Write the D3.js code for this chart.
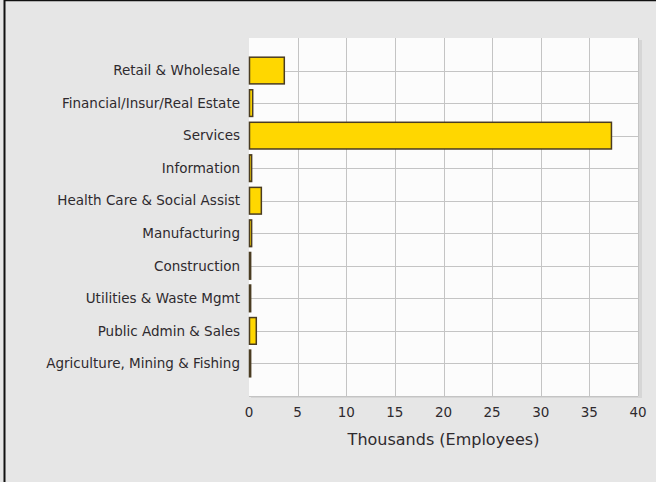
<!DOCTYPE html>
<html>
<head>
<meta charset="utf-8">
<script src="https://cdn.jsdelivr.net/npm/d3@7"></script>
<style>
  html, body { margin: 0; padding: 0; background: #e6e6e6; }
  svg { display: block; }
</style>
</head>
<body>
<div id="chart"></div>
<script>
// Employment by industry (thousands)
const CATEGORIES = [
  'Retail & Wholesale',
  'Financial/Insur/Real Estate',
  'Services',
  'Information',
  'Health Care & Social Assist',
  'Manufacturing',
  'Construction',
  'Utilities & Waste Mgmt',
  'Public Admin & Sales',
  'Agriculture, Mining & Fishing'
];
const VALUES = [3.63, 0.38, 37.27, 0.27, 1.27, 0.27, 0.17, 0.17, 0.75, 0.17];
const X_TICKS = [0, 5, 10, 15, 20, 25, 30, 35, 40];
const X_TITLE = 'Thousands (Employees)';

const W = 656, H = 482;
const MARGIN = { top: 38, right: 18, bottom: 86, left: 249 };
const innerW = W - MARGIN.left - MARGIN.right;
const innerH = H - MARGIN.top - MARGIN.bottom;
const FONT = '"DejaVu Sans", Verdana, sans-serif';

const svg = d3.select('#chart').append('svg')
  .attr('width', W)
  .attr('height', H);

svg.append('rect')
  .attr('width', W).attr('height', H)
  .attr('fill', '#e6e6e6');

// frame lines on left and top
svg.append('line')
  .attr('x1', 4.5).attr('x2', 4.5).attr('y1', 0).attr('y2', H)
  .attr('stroke', '#111').attr('stroke-width', 2);
svg.append('line')
  .attr('x1', 4).attr('x2', W).attr('y1', 0.5).attr('y2', 0.5)
  .attr('stroke', '#111').attr('stroke-width', 1.5);

const g = svg.append('g').attr('transform', `translate(${MARGIN.left},${MARGIN.top})`);

const x = d3.scaleLinear().domain([0, 40]).range([0, innerW]);
const y = d3.scalePoint().domain(CATEGORIES).range([0, innerH]).padding(1);
const barH = y.step() * 0.82;

// panel shadow + background
g.append('rect')
  .attr('x', 2).attr('y', 2)
  .attr('width', innerW + 2).attr('height', innerH)
  .attr('fill', '#d6d6d6');
g.append('rect')
  .attr('width', innerW).attr('height', innerH)
  .attr('fill', '#fcfcfc');

// grid
g.selectAll('.vgrid').data(X_TICKS.slice(1)).join('line')
  .attr('class', 'vgrid')
  .attr('x1', (d) => Math.round(x(d)) + 0.5).attr('x2', (d) => Math.round(x(d)) + 0.5)
  .attr('y1', 0).attr('y2', innerH)
  .attr('stroke', '#c4c4c4').attr('stroke-width', 1);

g.selectAll('.hgrid').data(CATEGORIES).join('line')
  .attr('class', 'hgrid')
  .attr('x1', 0).attr('x2', innerW)
  .attr('y1', (d) => Math.round(y(d)) + 0.5).attr('y2', (d) => Math.round(y(d)) + 0.5)
  .attr('stroke', '#c4c4c4').attr('stroke-width', 1);

// bottom axis line
g.append('line')
  .attr('x1', 0).attr('x2', innerW)
  .attr('y1', innerH + 0.5).attr('y2', innerH + 0.5)
  .attr('stroke', '#c4c4c4');

// bars
g.selectAll('.bar').data(VALUES).join('rect')
  .attr('class', 'bar')
  .attr('x', 0.5)
  .attr('y', (d, i) => y(CATEGORIES[i]) - barH / 2)
  .attr('width', (d) => Math.max(0, x(d) - 0.5))
  .attr('height', barH)
  .attr('fill', '#ffd700')
  .attr('stroke', '#4a3c22')
  .attr('stroke-width', 1.5);

// category labels
g.selectAll('.cat').data(CATEGORIES).join('text')
  .attr('class', 'cat')
  .attr('x', -9)
  .attr('y', (d) => y(d))
  .attr('dy', '0.35em')
  .attr('text-anchor', 'end')
  .attr('font-family', FONT)
  .attr('font-size', '13.5px')
  .attr('fill', '#2e2a2e')
  .text((d) => d);

// x tick labels
g.selectAll('.xt').data(X_TICKS).join('text')
  .attr('class', 'xt')
  .attr('x', (d) => x(d))
  .attr('y', innerH + 16)
  .attr('dy', '0.35em')
  .attr('text-anchor', 'middle')
  .attr('font-family', FONT)
  .attr('font-size', '13.5px')
  .attr('fill', '#2e2a2e')
  .text((d) => d);

g.append('text')
  .attr('x', innerW / 2)
  .attr('y', innerH + 43)
  .attr('dy', '0.35em')
  .attr('text-anchor', 'middle')
  .attr('font-family', FONT)
  .attr('font-size', '16px')
  .attr('fill', '#2e2a2e')
  .text(X_TITLE);
</script>
</body>
</html>
